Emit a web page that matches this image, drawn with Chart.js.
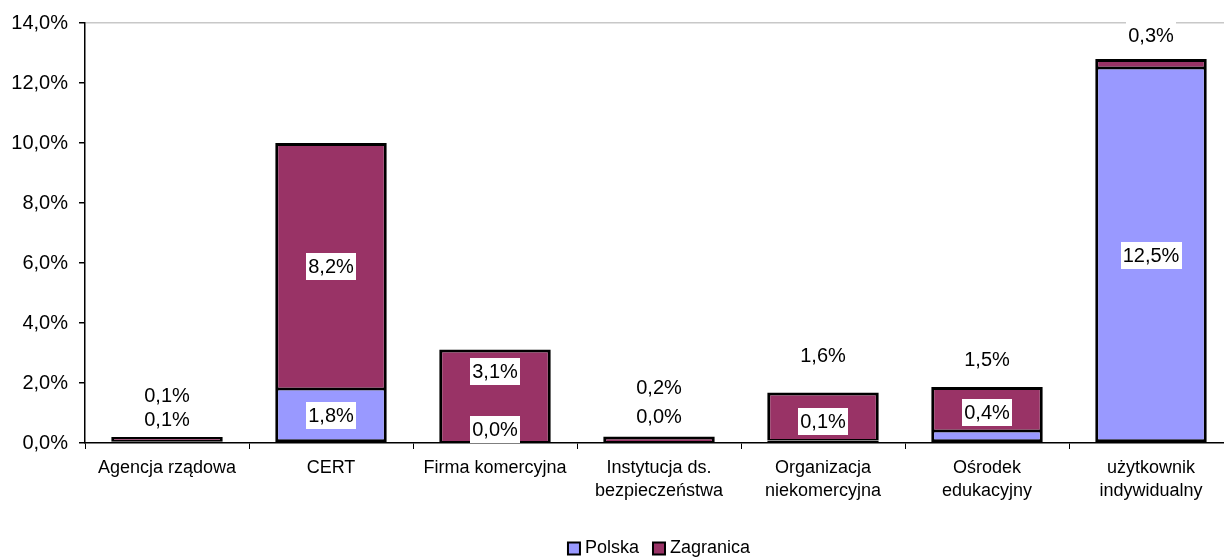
<!DOCTYPE html>
<html>
<head>
<meta charset="utf-8">
<script src="https://cdn.jsdelivr.net/npm/chart.js@4"></script>
<style>
html,body{margin:0;padding:0;background:#fff;overflow:hidden;width:1224px;height:558px;}
#wrap{width:1224px;height:558px;overflow:hidden;position:relative;}
canvas{display:block;}
</style>
</head>
<body>
<div id="wrap"><canvas id="c" width="1233" height="558"></canvas></div>
<script>
// ---- data ----
const categories = [
  "Agencja rządowa",
  "CERT",
  "Firma komercyjna",
  ["Instytucja ds.", "bezpieczeństwa"],
  ["Organizacja", "niekomercyjna"],
  ["Ośrodek", "edukacyjny"],
  ["użytkownik", "indywidualny"]
];
const seriesNames = ["Polska", "Zagranica"];
const polska    = [0.06, 1.8, 0.02, 0.02, 0.08, 0.4, 12.5];
const zagranica = [0.14, 8.2, 3.1, 0.2, 1.6, 1.47, 0.3];
const yTicks = [0, 2, 4, 6, 8, 10, 12, 14];

// ---- styling (label nudges in pixels, relative to segment centre) ----
const seriesColors = ["#9999FF", "#993366"];
const labelShiftPx = [
  [-22, 0, -13, -26, -20, -24, 0],
  [-44, 0, -24, -52, -61, -49, -28]
];

const FONT = "'Liberation Sans', Arial, sans-serif";
const fmt = v => v.toFixed(1).replace('.', ',') + '%';

const valueLabels = {
  id: 'valueLabels',
  afterDatasetsDraw(chart) {
    const ctx = chart.ctx;
    ctx.save();
    ctx.font = "20px " + FONT;
    ctx.textAlign = 'center';
    ctx.textBaseline = 'middle';
    chart.data.datasets.forEach((ds, i) => {
      const meta = chart.getDatasetMeta(i);
      meta.data.forEach((bar, j) => {
        const cy = (bar.y + bar.base) / 2 + labelShiftPx[i][j];
        const txt = fmt(ds.data[j]);
        const w = ctx.measureText(txt).width;
        ctx.fillStyle = '#fff';
        ctx.fillRect(Math.round(bar.x - w / 2 - 2), Math.round(cy - 13.5), Math.round(w + 4), 27);
        ctx.fillStyle = '#000';
        ctx.fillText(txt, bar.x, cy + 1);
      });
    });
    ctx.restore();
  }
};

const customLegend = {
  id: 'customLegend',
  afterDraw(chart) {
    const ctx = chart.ctx;
    const ca = chart.chartArea;
    ctx.save();
    ctx.font = "18px " + FONT;
    ctx.textBaseline = 'middle';
    ctx.textAlign = 'left';
    const box = 12, gap = 5, itemGap = 14;
    const items = chart.data.datasets.map(d => ({label: d.label, color: d.backgroundColor, w: ctx.measureText(d.label).width}));
    let total = 0;
    items.forEach((it, k) => { total += box + gap + it.w + (k < items.length - 1 ? itemGap : 0); });
    let x = (ca.left + ca.right) / 2 - total / 2;
    const cy = 548.5;
    items.forEach(it => {
      ctx.fillStyle = it.color;
      ctx.fillRect(x, cy - box / 2, box, box);
      ctx.lineWidth = 2;
      ctx.strokeStyle = '#000';
      ctx.strokeRect(x, cy - box / 2, box, box);
      ctx.fillStyle = '#000';
      ctx.fillText(it.label, x + box + gap, cy);
      x += box + gap + it.w + itemGap;
    });
    ctx.restore();
  }
};

new Chart(document.getElementById('c'), {
  type: 'bar',
  data: {
    labels: categories,
    datasets: [
      {label: seriesNames[0], data: polska, backgroundColor: seriesColors[0], borderColor: '#000',
       borderWidth: {top: 1.5, left: 3, right: 3, bottom: 3}, borderSkipped: false, inflateAmount: 0},
      {label: seriesNames[1], data: zagranica, backgroundColor: seriesColors[1], borderColor: '#000',
       borderWidth: {top: 3, left: 3, right: 3, bottom: 1.5}, borderSkipped: false, inflateAmount: 0}
    ]
  },
  options: {
    responsive: false,
    devicePixelRatio: 1,
    animation: false,
    layout: {padding: {top: 21, right: 0, bottom: 0, left: 0}},
    plugins: {legend: {display: false}, tooltip: {enabled: false}},
    datasets: {bar: {barPercentage: 0.68, categoryPercentage: 1}},
    scales: {
      x: {
        stacked: true,
        afterFit: s => { s.height = 115; },
        grid: {display: true, drawOnChartArea: false, color: '#000', tickColor: '#000', tickLength: 6, offset: true},
        border: {color: '#000', width: 1.5},
        ticks: {color: '#000', font: {family: FONT, size: 18, lineHeight: 1.3}, padding: 7, maxRotation: 0, autoSkip: false}
      },
      y: {
        stacked: true,
        min: 0, max: 14,
        afterFit: s => { s.width = 85; },
        afterBuildTicks: s => { s.ticks = yTicks.map(v => ({value: v})); },
        grid: {
          color: c => (c.tick && c.tick.value === 14 ? '#c8c8c8' : 'rgba(0,0,0,0)'),
          tickColor: '#000', tickLength: 6, lineWidth: 1.5
        },
        border: {color: '#000', width: 1.5},
        ticks: {color: '#000', font: {family: FONT, size: 20}, padding: 11, callback: v => fmt(v)}
      }
    }
  },
  plugins: [valueLabels, customLegend]
});
</script>
</body>
</html>
